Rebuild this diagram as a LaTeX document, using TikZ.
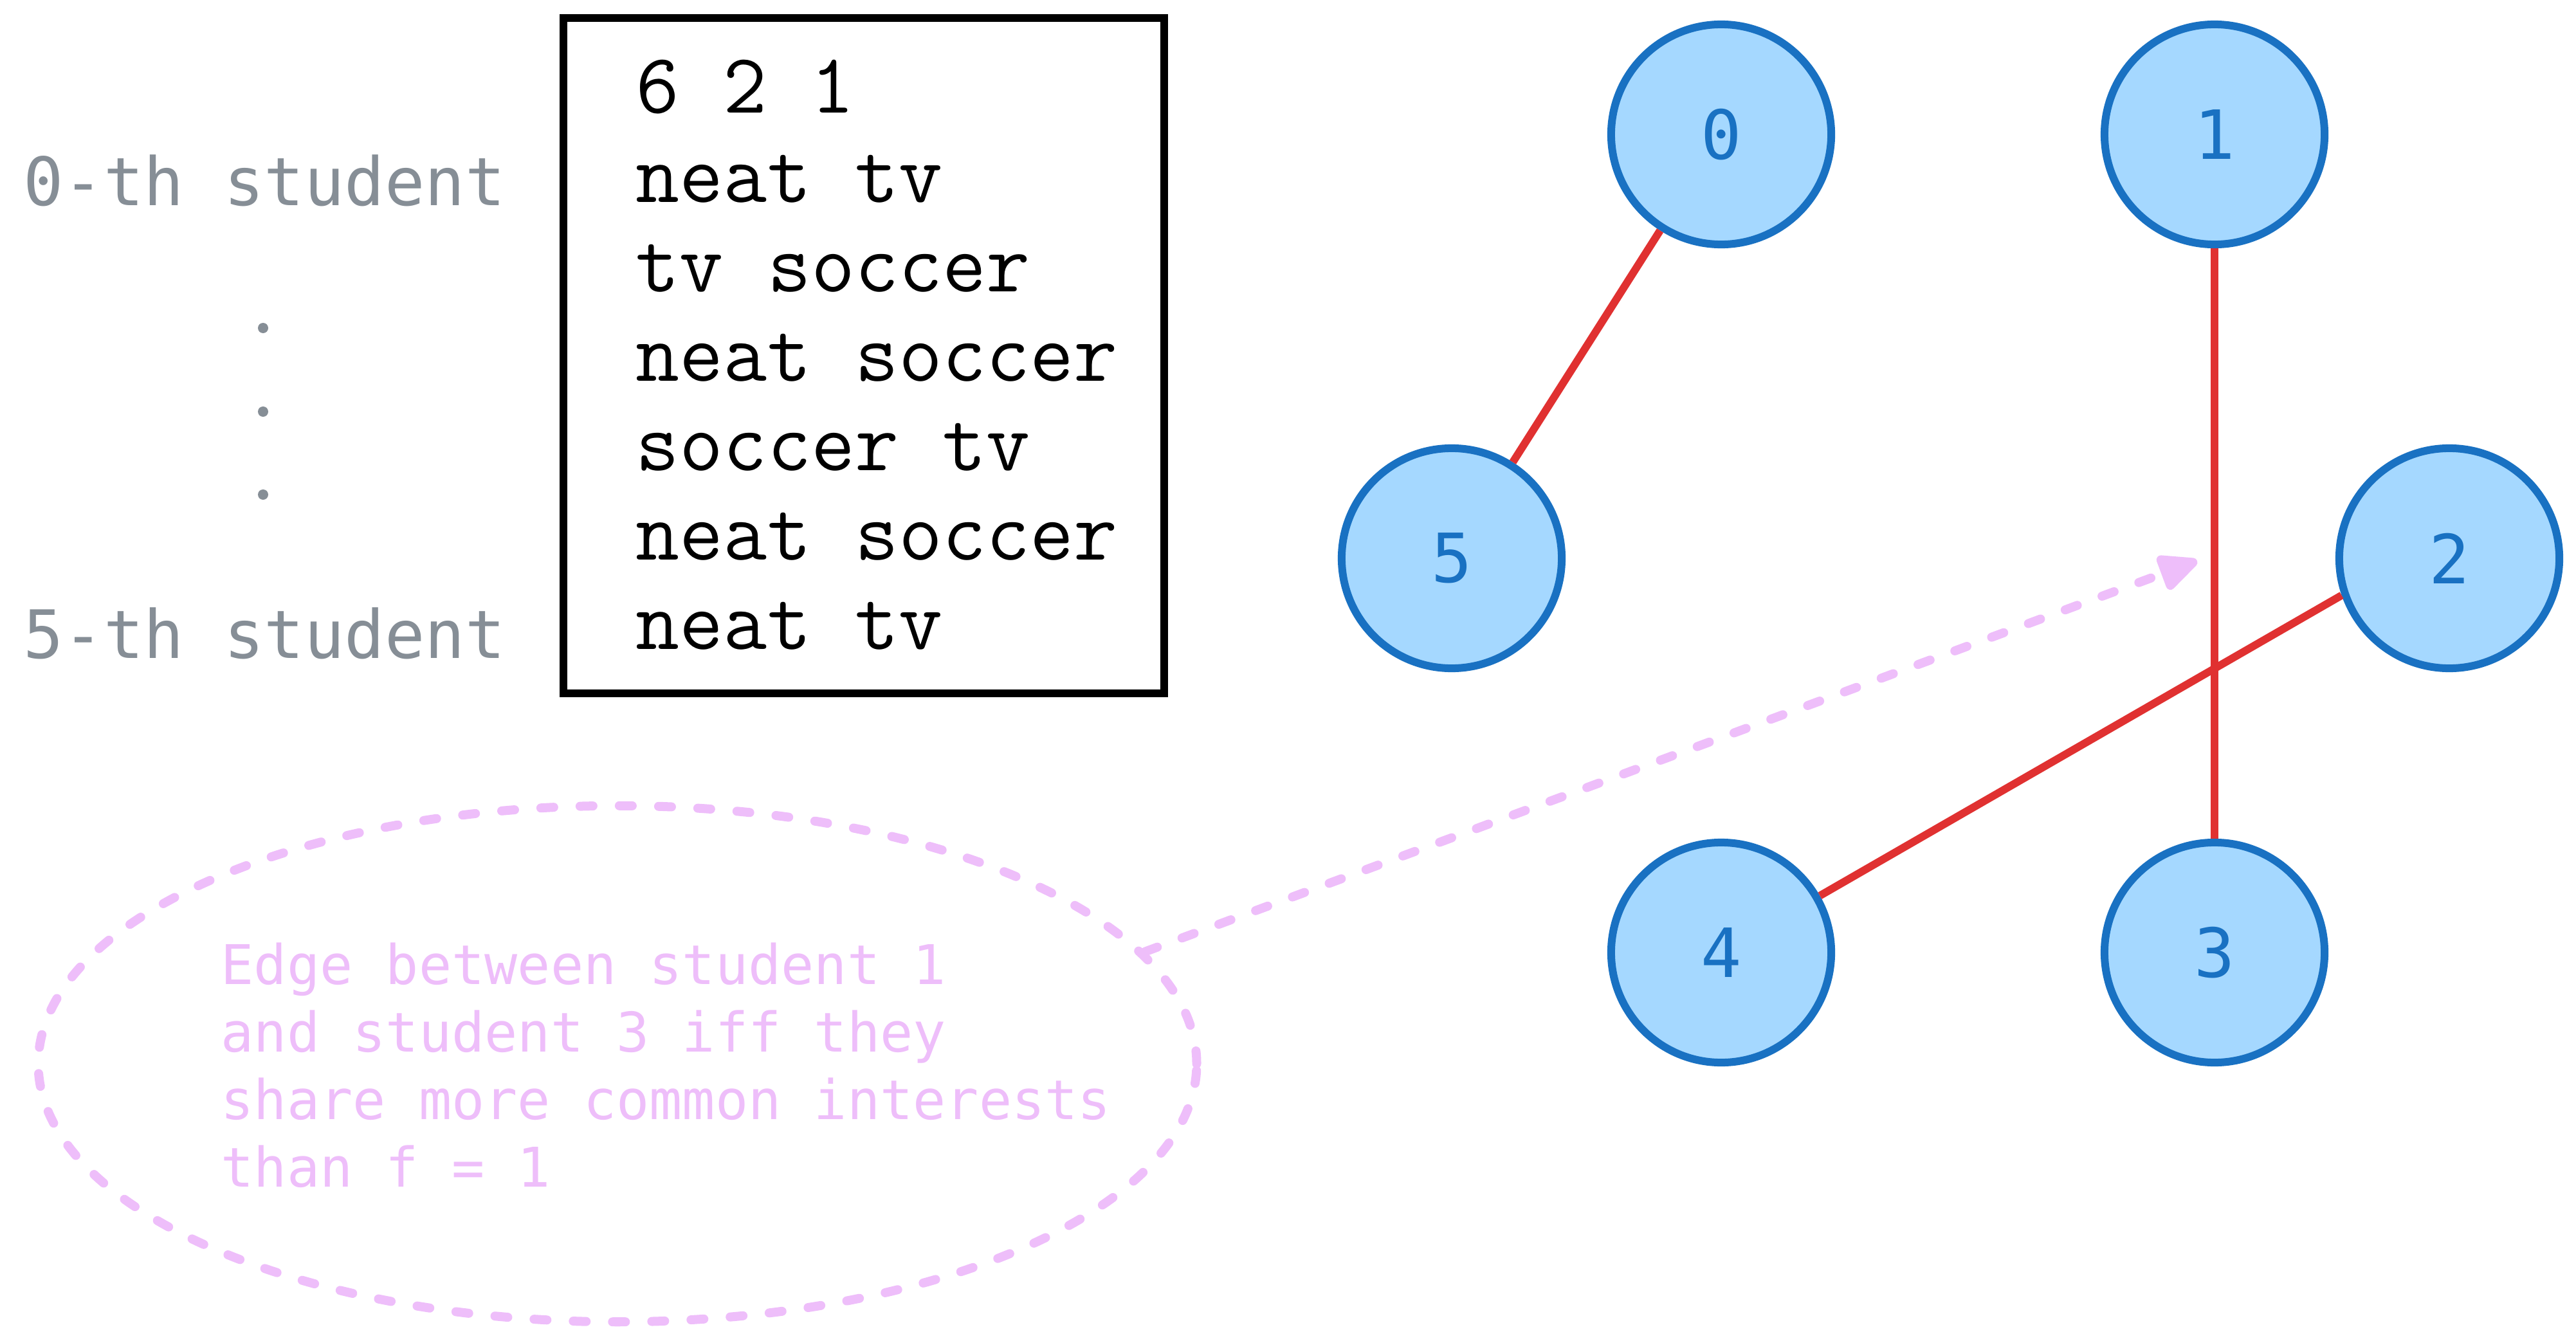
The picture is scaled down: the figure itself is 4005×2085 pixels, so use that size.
\documentclass[tikz,border=0pt]{standalone}
\usepackage{fontspec}
\usepackage{tikz}
\usetikzlibrary{arrows.meta,shapes.geometric}
\newfontfamily\monofont{DejaVu Sans Mono}
\newfontfamily\listingfont[WordSpace={1,0,0}]{Latin Modern Mono}
\definecolor{nodefill}{HTML}{A5D8FF}
\definecolor{nodeline}{HTML}{1971C2}
\definecolor{edgered}{HTML}{E03131}
\definecolor{notepink}{HTML}{EEBEFA}
\definecolor{labelgray}{HTML}{868E96}
\begin{document}
\begin{tikzpicture}[x=0.01cm,y=-0.01cm,
  vertex/.style={circle,draw=nodeline,fill=nodefill,line width=0.12cm,minimum size=3.42cm,inner sep=0pt,
    text=nodeline,font=\monofont\fontsize{30}{35}\selectfont},
  link/.style={draw=edgered,line width=0.12cm},
  studentlbl/.style={text=labelgray,inner sep=0pt,font=\monofont\fontsize{29.5}{35}\selectfont},
  inputbox/.style={draw=black,line width=0.12cm,minimum width=9.34cm,minimum height=10.5cm,inner sep=0pt},
  listing/.style={inner sep=0pt,align=left,font=\listingfont\fontsize{37.6}{39.55}\selectfont},
  pinkdash/.style={draw=notepink,line width=0.14cm,line cap=round,dash pattern=on 0.2cm off 0.41cm},
  notetext/.style={text=notepink,inner sep=0pt,align=left,font=\monofont\fontsize{24.2}{29.9}\selectfont}]
\useasboundingbox (0,0) rectangle (4005,2085);
% input file and the students it lists
\node[studentlbl,anchor=base] (first) at (411,320) {0-th student};
\node[studentlbl,anchor=base] (last) at (411,1023) {5-th student};
\foreach \dy in {510,640,769} {\fill[labelgray] (409,\dy) circle (8);}
\node[inputbox] (input) at (1343,553) {};
\node[listing,anchor=north west] (lines) at (988,92) {6 2 1\\neat tv\\tv soccer\\neat soccer\\soccer tv\\neat soccer\\neat tv};
% friendship graph
\node[vertex] (v0) at (2676,209) {0};
\node[vertex] (v1) at (3443,209) {1};
\node[vertex] (v5) at (2257,868) {5};
\node[vertex] (v2) at (3808,868) {2};
\node[vertex] (v4) at (2676,1481) {4};
\node[vertex] (v3) at (3443,1481) {3};
\draw[link] (v0) -- (v5);
\draw[link] (v1) -- (v3);
\draw[link] (v2.199) -- (v4);
% note
\node[ellipse,pinkdash,minimum width=18cm,minimum height=8.02cm,inner sep=0pt] (note) at (960,1654) {};
\node[notetext,anchor=north west] (notetxt) at (343,1465) {Edge between student 1\\and student 3 iff they\\share more common interests\\than f = 1};
\coordinate (hint) at (3416,872);
\draw[pinkdash,-{Triangle[length=0.7cm,width=0.6cm,round]}] (note.12) -- (hint);
\end{tikzpicture}
\end{document}
